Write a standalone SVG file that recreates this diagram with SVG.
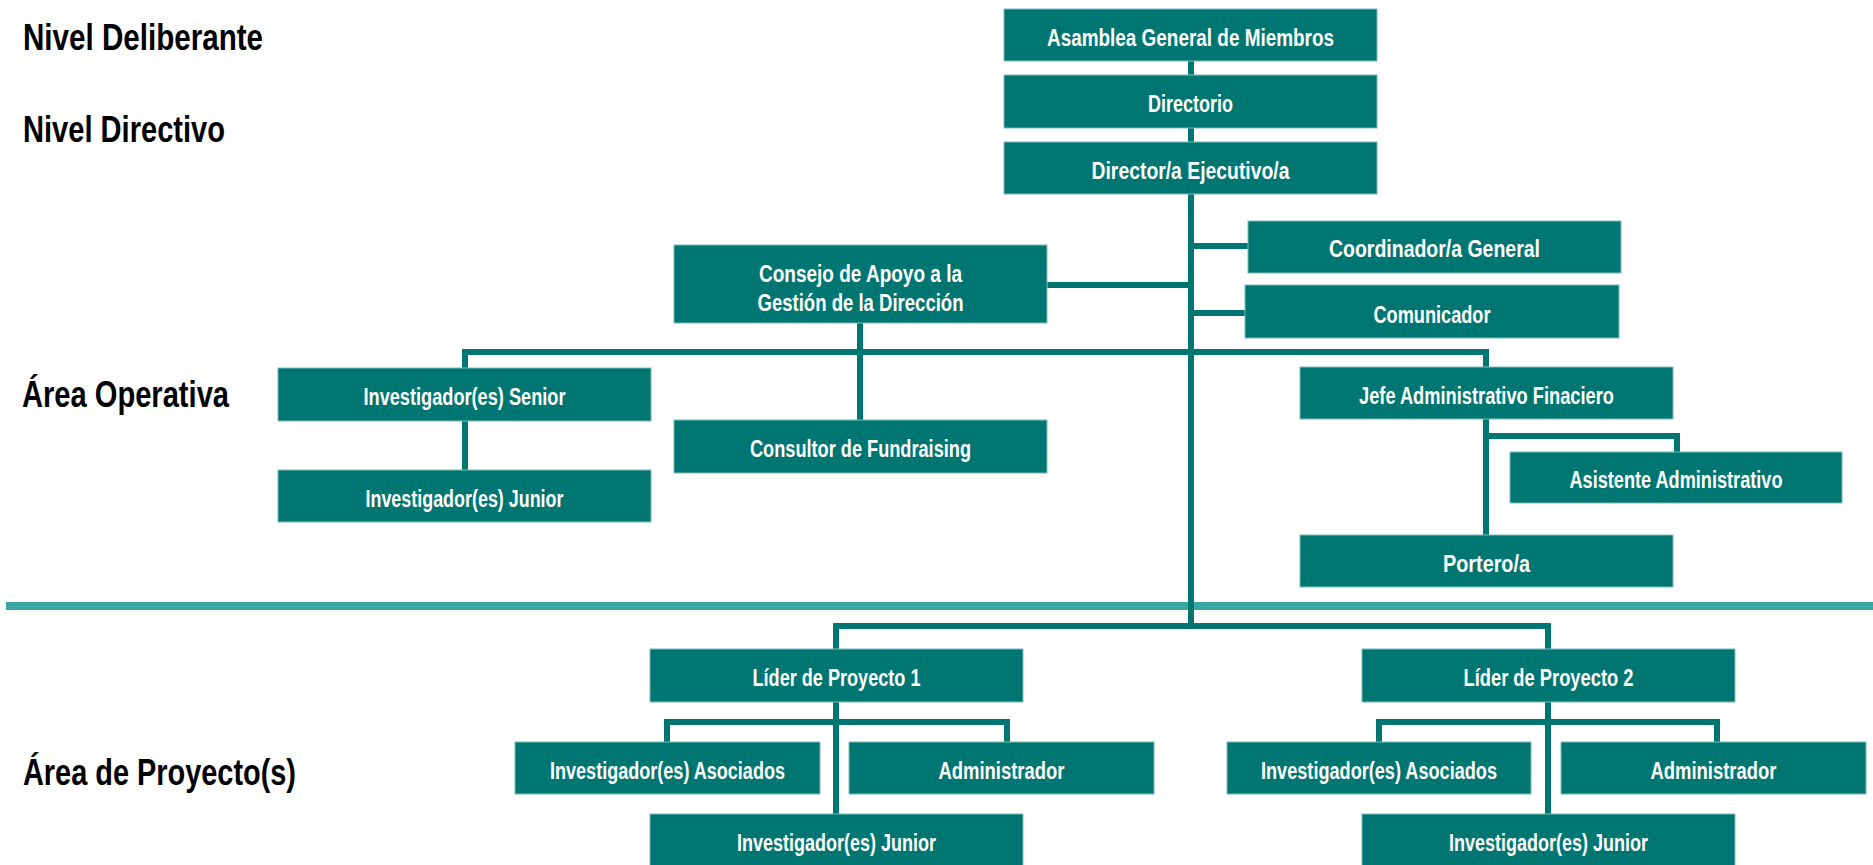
<svg xmlns="http://www.w3.org/2000/svg" width="1873" height="865" viewBox="0 0 1873 865">
<style>
.box{fill:#007672;stroke:#7dbdba;stroke-width:1}
.lbl{font-family:"Liberation Sans",Arial,sans-serif;font-weight:bold;font-size:23px;fill:#ffffff;text-anchor:middle}
.lvl{font-family:"Liberation Sans",Arial,sans-serif;font-weight:bold;font-size:37px;fill:#000000}
.con{fill:none;stroke:#007672;stroke-width:6;stroke-linejoin:miter}
</style>
<rect width="1873" height="865" fill="#ffffff"/>
<g id="levels">
<text class="lvl" x="23" y="50" textLength="240" lengthAdjust="spacingAndGlyphs">Nivel Deliberante</text>
<text class="lvl" x="23" y="142" textLength="202" lengthAdjust="spacingAndGlyphs">Nivel Directivo</text>
<text class="lvl" x="22" y="407" textLength="207" lengthAdjust="spacingAndGlyphs">Área Operativa</text>
<text class="lvl" x="23" y="785" textLength="273" lengthAdjust="spacingAndGlyphs">Área de Proyecto(s)</text>
</g>
<line id="divider" x1="6" y1="606" x2="1873" y2="606" stroke="#3ba7a5" stroke-width="8"/>
<g id="connectors">
<path class="con" d="M1191 61 V626"/>
<path class="con" d="M1191 246 H1248"/>
<path class="con" d="M1191 313 H1245"/>
<path class="con" d="M1047 285 H1191"/>
<path class="con" d="M465 368 V352 H1486 V367"/>
<path class="con" d="M860 323 V420"/>
<path class="con" d="M465 421 V470"/>
<path class="con" d="M1486 419 V535"/>
<path class="con" d="M1486 436 H1677 V452"/>
<path class="con" d="M836 649 V626 H1548 V649"/>
<path class="con" d="M836 702 V814"/>
<path class="con" d="M667 742 V722 H1007 V742"/>
<path class="con" d="M1548 702 V814"/>
<path class="con" d="M1379 742 V722 H1717 V742"/>
</g>
<g id="asamblea"><rect class="box" x="1004" y="9" width="373" height="52"/><text class="lbl" x="1190.5" y="46" textLength="287" lengthAdjust="spacingAndGlyphs">Asamblea General de Miembros</text></g>
<g id="directorio"><rect class="box" x="1004" y="75" width="373" height="53"/><text class="lbl" x="1190.5" y="112" textLength="85" lengthAdjust="spacingAndGlyphs">Directorio</text></g>
<g id="director"><rect class="box" x="1004" y="142" width="373" height="52"/><text class="lbl" x="1190.5" y="179" textLength="198" lengthAdjust="spacingAndGlyphs">Director/a Ejecutivo/a</text></g>
<g id="coordinador"><rect class="box" x="1248" y="221" width="373" height="52"/><text class="lbl" x="1434.5" y="257" textLength="211" lengthAdjust="spacingAndGlyphs">Coordinador/a General</text></g>
<g id="comunicador"><rect class="box" x="1245" y="285" width="374" height="53"/><text class="lbl" x="1432" y="323" textLength="117" lengthAdjust="spacingAndGlyphs">Comunicador</text></g>
<g id="consejo"><rect class="box" x="674" y="245" width="373" height="78"/><text class="lbl" x="860.5" y="282" textLength="203" lengthAdjust="spacingAndGlyphs">Consejo de Apoyo a la</text><text class="lbl" x="860.5" y="311" textLength="206" lengthAdjust="spacingAndGlyphs">Gestión de la Dirección</text></g>
<g id="inv-senior"><rect class="box" x="278" y="368" width="373" height="53"/><text class="lbl" x="464.5" y="405" textLength="202" lengthAdjust="spacingAndGlyphs">Investigador(es) Senior</text></g>
<g id="inv-junior-op"><rect class="box" x="278" y="470" width="373" height="52"/><text class="lbl" x="464.5" y="507" textLength="198" lengthAdjust="spacingAndGlyphs">Investigador(es) Junior</text></g>
<g id="consultor"><rect class="box" x="674" y="420" width="373" height="53"/><text class="lbl" x="860.5" y="457" textLength="221" lengthAdjust="spacingAndGlyphs">Consultor de Fundraising</text></g>
<g id="jefe"><rect class="box" x="1300" y="367" width="373" height="52"/><text class="lbl" x="1486.5" y="404" textLength="255" lengthAdjust="spacingAndGlyphs">Jefe Administrativo Finaciero</text></g>
<g id="asistente"><rect class="box" x="1510" y="452" width="332" height="51"/><text class="lbl" x="1676" y="488" textLength="213" lengthAdjust="spacingAndGlyphs">Asistente Administrativo</text></g>
<g id="portero"><rect class="box" x="1300" y="535" width="373" height="52"/><text class="lbl" x="1486.5" y="572" textLength="87" lengthAdjust="spacingAndGlyphs">Portero/a</text></g>
<g id="lider1"><rect class="box" x="650" y="649" width="373" height="53"/><text class="lbl" x="836.5" y="686" textLength="168" lengthAdjust="spacingAndGlyphs">Líder de Proyecto 1</text></g>
<g id="asoc1"><rect class="box" x="515" y="742" width="305" height="52"/><text class="lbl" x="667.5" y="779" textLength="235" lengthAdjust="spacingAndGlyphs">Investigador(es) Asociados</text></g>
<g id="admin1"><rect class="box" x="849" y="742" width="305" height="52"/><text class="lbl" x="1001.5" y="779" textLength="126" lengthAdjust="spacingAndGlyphs">Administrador</text></g>
<g id="junior1"><rect class="box" x="650" y="814" width="373" height="53"/><text class="lbl" x="836.5" y="851" textLength="199" lengthAdjust="spacingAndGlyphs">Investigador(es) Junior</text></g>
<g id="lider2"><rect class="box" x="1362" y="649" width="373" height="53"/><text class="lbl" x="1548.5" y="686" textLength="170" lengthAdjust="spacingAndGlyphs">Líder de Proyecto 2</text></g>
<g id="asoc2"><rect class="box" x="1227" y="742" width="304" height="52"/><text class="lbl" x="1379" y="779" textLength="236" lengthAdjust="spacingAndGlyphs">Investigador(es) Asociados</text></g>
<g id="admin2"><rect class="box" x="1561" y="742" width="305" height="52"/><text class="lbl" x="1713.5" y="779" textLength="126" lengthAdjust="spacingAndGlyphs">Administrador</text></g>
<g id="junior2"><rect class="box" x="1362" y="814" width="373" height="53"/><text class="lbl" x="1548.5" y="851" textLength="199" lengthAdjust="spacingAndGlyphs">Investigador(es) Junior</text></g>
</svg>
